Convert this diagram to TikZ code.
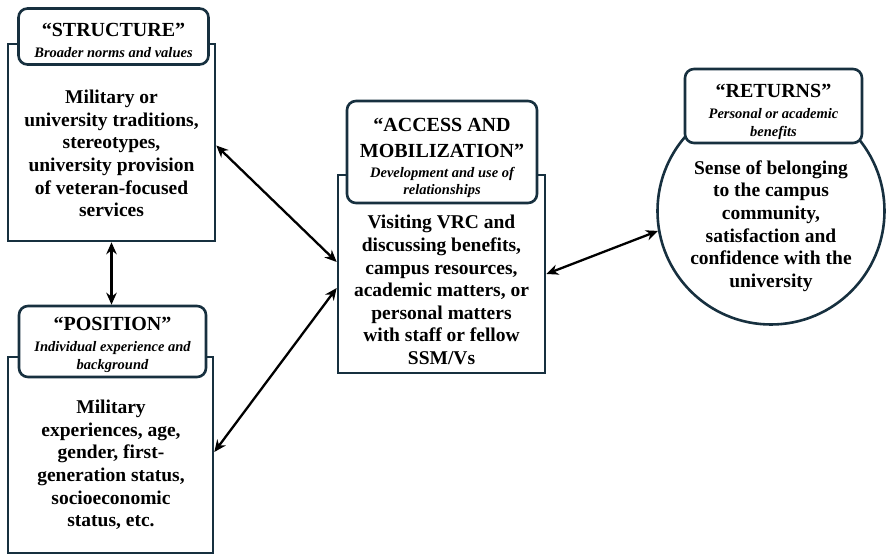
\documentclass[tikz,border=0pt]{standalone}
\usepackage{fontspec}
\setmainfont{Liberation Serif}
\usetikzlibrary{arrows.meta}
\definecolor{frameink}{HTML}{17303F}
%% title word of a head box; optional strut pushes the block down a little
\newcommand{\headword}[2][0pt]{{\upshape\fontsize{20}{24}\selectfont\rule{0pt}{#1}#2}}

\begin{document}
\begin{tikzpicture}[x=1pt, y=-1pt, >={Stealth[length=12pt, width=10.5pt]},
    panel/.style={draw=frameink, line width=2.6pt, fill=white, inner sep=0pt},
    headbox/.style={draw=frameink, line width=2.6pt, fill=white, rounded corners=9pt,
                    inner sep=0pt, align=center,
                    font=\bfseries\itshape\fontsize{14.5}{17.5}\selectfont},
    bodytext/.style={inner sep=0pt, align=center,
                     font=\bfseries\fontsize{19.5}{22.6}\selectfont},
    link/.style={line width=2.3pt, <->}]

\useasboundingbox (0,0) rectangle (887,556);

%% ==== STRUCTURE, upper left ==========================================
\node[panel, minimum width=207pt, minimum height=197pt] (strbox) at (111.5,142.5) {};
\node[headbox, minimum width=190pt, minimum height=56pt] (strhead) at (113.5,36.5)
  {\headword[21pt]{“STRUCTURE”}\\[3.5pt]
   Broader norms and values};
\node[bodytext] (strtext) at (111.5,153.5)
  {Military or\\university traditions,\\stereotypes,\\university provision\\
   of veteran-focused\\services};

%% ==== POSITION, lower left ===========================================
\node[panel, minimum width=205pt, minimum height=196pt] (posbox) at (110.5,455) {};
\node[headbox, minimum width=187pt, minimum height=71pt] (poshead) at (112.5,341.5)
  {\headword[20pt]{“POSITION”}\\[3.5pt]
   Individual experience and\\background};
\node[bodytext] (postext) at (111,465)
  {Military\\experiences, age,\\gender, first-\\generation status,\\
   socioeconomic\\status, etc.};

%% ==== ACCESS AND MOBILIZATION, centre ================================
\node[panel, minimum width=207pt, minimum height=198pt] (accbox) at (441.5,274) {};
\node[headbox, minimum width=190pt, minimum height=102pt] (acchead) at (442,152)
  {\headword[26pt]{“ACCESS AND}\\[8.5pt]\headword{MOBILIZATION”}\\[2pt]
   Development and use of\\relationships};
\node[bodytext] (acctext) at (441.5,290)
  {Visiting VRC and\\discussing benefits,\\campus resources,\\
   academic matters, or\\personal matters\\with staff or fellow\\SSM/Vs};

%% ==== RETURNS, right =================================================
\node[panel, circle, minimum size=227pt] (retbody) at (771,211) {};
\node[headbox, minimum width=177pt, minimum height=74pt] (rethead) at (773.5,106)
  {\headword[25pt]{“RETURNS”}\\[3.5pt]
   Personal or academic\\benefits};
\node[bodytext] (rettext) at (771,226)
  {Sense of belonging\\to the campus\\community,\\satisfaction and\\
   confidence with the\\university};

%% ==== links ==========================================================
\draw[link] (strbox.south) -- (strbox.south |- poshead.north);
\draw[link] ([yshift=-3pt]strbox.east) -- ([yshift=12pt]accbox.west);
\draw[link] ([yshift=3pt]posbox.east) -- ([yshift=-14pt]accbox.west);
\draw[link] (accbox.east) -- (retbody.190);

\end{tikzpicture}
\end{document}
